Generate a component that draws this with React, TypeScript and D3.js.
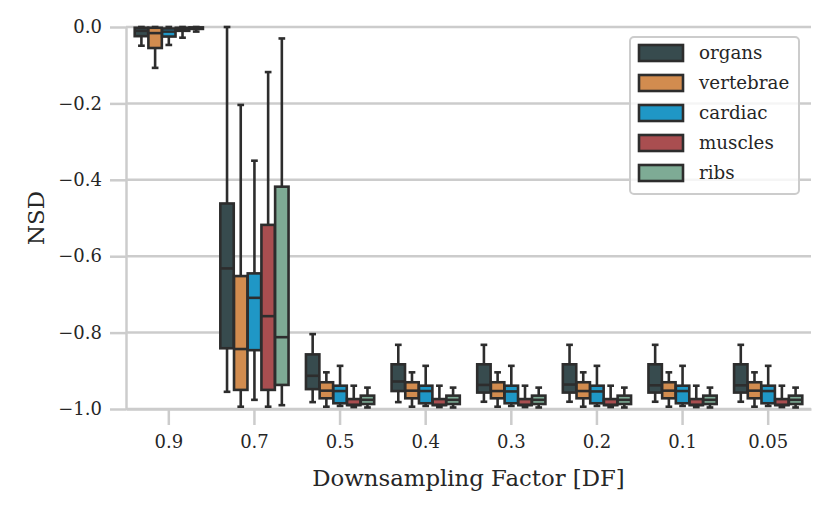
import React, { useEffect, useRef } from 'react';
import * as d3 from 'd3';

const factors = ['0.9', '0.7', '0.5', '0.4', '0.3', '0.2', '0.1', '0.05'];
const structures = ['organs', 'vertebrae', 'cardiac', 'muscles', 'ribs'];
const structureColors = ['#374b4e', '#d28c4f', '#1f97c6', '#a94e50', '#7eab95'];
const yTicks = [0, -0.2, -0.4, -0.6, -0.8, -1.0];

// [lower whisker, q1, median, q3, upper whisker] for each factor
const organs = [
  [-0.049, -0.024, -0.010, -0.002, 0],
  [-0.955, -0.841, -0.632, -0.462, 0],
  [-0.982, -0.948, -0.913, -0.857, -0.804],
  [-0.982, -0.953, -0.928, -0.883, -0.832],
  [-0.981, -0.957, -0.937, -0.883, -0.832],
  [-0.981, -0.957, -0.936, -0.883, -0.832],
  [-0.981, -0.957, -0.938, -0.883, -0.832],
  [-0.981, -0.957, -0.938, -0.883, -0.832],
];
const vertebrae = [
  [-0.107, -0.055, -0.016, -0.002, 0],
  [-0.994, -0.950, -0.843, -0.652, -0.204],
  [-0.994, -0.972, -0.952, -0.930, -0.904],
  [-0.994, -0.972, -0.952, -0.930, -0.904],
  [-0.994, -0.972, -0.953, -0.930, -0.904],
  [-0.994, -0.972, -0.953, -0.930, -0.904],
  [-0.994, -0.972, -0.952, -0.930, -0.904],
  [-0.994, -0.972, -0.952, -0.930, -0.904],
];
const cardiac = [
  [-0.047, -0.025, -0.012, -0.004, 0],
  [-0.976, -0.846, -0.709, -0.645, -0.35],
  [-0.992, -0.985, -0.953, -0.939, -0.887],
  [-0.992, -0.985, -0.953, -0.939, -0.887],
  [-0.992, -0.985, -0.954, -0.939, -0.887],
  [-0.992, -0.985, -0.954, -0.939, -0.887],
  [-0.992, -0.985, -0.953, -0.939, -0.887],
  [-0.992, -0.985, -0.953, -0.939, -0.887],
];
const muscles = [
  [-0.028, -0.010, -0.005, -0.002, 0],
  [-0.994, -0.950, -0.757, -0.518, -0.118],
  [-0.995, -0.990, -0.989, -0.974, -0.939],
  [-0.995, -0.990, -0.989, -0.974, -0.939],
  [-0.995, -0.990, -0.989, -0.974, -0.939],
  [-0.995, -0.990, -0.989, -0.974, -0.939],
  [-0.995, -0.990, -0.989, -0.974, -0.939],
  [-0.995, -0.990, -0.989, -0.974, -0.939],
];
const ribs = [
  [-0.012, -0.005, -0.003, -0.001, 0],
  [-0.990, -0.937, -0.812, -0.418, -0.03],
  [-0.996, -0.987, -0.976, -0.965, -0.944],
  [-0.996, -0.987, -0.976, -0.965, -0.944],
  [-0.996, -0.987, -0.976, -0.965, -0.944],
  [-0.996, -0.987, -0.976, -0.965, -0.944],
  [-0.996, -0.987, -0.976, -0.965, -0.944],
  [-0.996, -0.987, -0.976, -0.965, -0.944],
];
const seriesStats = [organs, vertebrae, cardiac, muscles, ribs];

const FONT = 'DejaVu Serif, serif';
const TEXT = '#262626';
const GRID = '#cccccc';
const EDGE = '#2d2d2d';

export default function App() {
  const svgRef = useRef<SVGSVGElement>(null);

  useEffect(() => {
    if (!svgRef.current) return;
    const svg = d3.select(svgRef.current);
    svg.selectAll('*').remove();

    const left = 126, right = 811, top = 27, bottom = 409;

    const x = d3.scaleBand().domain(factors).range([left, right]).padding(0);
    const step = x.bandwidth();
    const hue = d3.scaleBand().domain(structures).range([-0.4 * step, 0.4 * step]).padding(0);
    const bw = hue.bandwidth() * 0.98;
    const y = d3.scaleLinear().domain([-1, 0]).range([bottom, top]);

    // grid
    const grid = svg.append('g');
    grid.selectAll('line')
      .data(yTicks)
      .enter()
      .append('line')
      .attr('x1', left)
      .attr('x2', right)
      .attr('y1', d => y(d))
      .attr('y2', d => y(d))
      .attr('stroke', GRID)
      .attr('stroke-width', 2.5);

    // y axis
    const yAxis = svg.append('g')
      .attr('transform', `translate(${left},0)`)
      .call(d3.axisLeft(y).tickValues(yTicks).tickFormat(d3.format('.1f')).tickSizeInner(16).tickSizeOuter(0).tickPadding(8));
    yAxis.select('.domain').attr('stroke', GRID).attr('stroke-width', 2.5);
    yAxis.selectAll('.tick line').attr('stroke', GRID).attr('stroke-width', 2.5);
    yAxis.selectAll('.tick text')
      .attr('font-family', FONT)
      .attr('font-size', 18)
      .attr('fill', TEXT);

    // x axis
    const xAxis = svg.append('g')
      .attr('transform', `translate(0,${bottom})`)
      .call(d3.axisBottom(x).tickSizeInner(16).tickSizeOuter(0).tickPadding(10));
    xAxis.select('.domain').attr('stroke', GRID).attr('stroke-width', 2.5);
    xAxis.selectAll('.tick line').attr('stroke', GRID).attr('stroke-width', 2.5);
    xAxis.selectAll('.tick text')
      .attr('font-family', FONT)
      .attr('font-size', 18)
      .attr('fill', TEXT);

    // boxes
    structures.forEach((s, si) => {
      const g = svg.append('g');
      const rows = factors.map((f, fi) => ({ f, st: seriesStats[si][fi] }));
      const cx = (d: any) => (x(d.f) || 0) + step / 2 + (hue(s) || 0) + hue.bandwidth() / 2;

      const items = g.selectAll('g.box').data(rows).enter().append('g').attr('class', 'box');

      items.append('line')
        .attr('x1', cx).attr('x2', cx)
        .attr('y1', d => y(d.st[1])).attr('y2', d => y(d.st[0]))
        .attr('stroke', EDGE).attr('stroke-width', 2.6);
      items.append('line')
        .attr('x1', cx).attr('x2', cx)
        .attr('y1', d => y(d.st[3])).attr('y2', d => y(d.st[4]))
        .attr('stroke', EDGE).attr('stroke-width', 2.6);
      [0, 4].forEach(k => {
        items.append('line')
          .attr('x1', d => cx(d) - bw / 4).attr('x2', d => cx(d) + bw / 4)
          .attr('y1', d => y(d.st[k])).attr('y2', d => y(d.st[k]))
          .attr('stroke', EDGE).attr('stroke-width', 2.6);
      });
      items.append('rect')
        .attr('x', d => cx(d) - bw / 2)
        .attr('width', bw)
        .attr('y', d => y(d.st[3]))
        .attr('height', d => Math.max(0, y(d.st[1]) - y(d.st[3])))
        .attr('fill', structureColors[si])
        .attr('stroke', EDGE)
        .attr('stroke-width', 2.6);
      items.append('line')
        .attr('x1', d => cx(d) - bw / 2).attr('x2', d => cx(d) + bw / 2)
        .attr('y1', d => y(d.st[2])).attr('y2', d => y(d.st[2]))
        .attr('stroke', EDGE).attr('stroke-width', 2.6);
    });

    // axis labels
    svg.append('text')
      .attr('x', (left + right) / 2)
      .attr('y', 486)
      .attr('text-anchor', 'middle')
      .attr('font-family', FONT)
      .attr('font-size', 22.8)
      .attr('fill', TEXT)
      .text('Downsampling Factor [DF]');
    svg.append('text')
      .attr('transform', `translate(44,${(top + bottom) / 2}) rotate(-90)`)
      .attr('text-anchor', 'middle')
      .attr('font-family', FONT)
      .attr('font-size', 22.8)
      .attr('fill', TEXT)
      .text('NSD');

    // legend
    const legend = svg.append('g');
    legend.append('rect')
      .attr('x', 630).attr('y', 37)
      .attr('width', 169).attr('height', 157)
      .attr('rx', 4)
      .attr('fill', 'white').attr('fill-opacity', 0.8)
      .attr('stroke', GRID).attr('stroke-width', 2);
    const entries = legend.selectAll('g.entry')
      .data(structures)
      .enter()
      .append('g')
      .attr('class', 'entry')
      .attr('transform', (d, i) => `translate(0,${53 + i * 30})`);
    entries.append('rect')
      .attr('x', 639).attr('y', -8)
      .attr('width', 44).attr('height', 16)
      .attr('fill', (d, i) => structureColors[i])
      .attr('stroke', EDGE).attr('stroke-width', 2.6);
    entries.append('text')
      .attr('x', 699).attr('y', 6)
      .attr('font-family', FONT)
      .attr('font-size', 18.3)
      .attr('fill', TEXT)
      .text(d => d);
  }, []);

  return (
    <svg
      ref={svgRef}
      width={830}
      height={511}
      viewBox="0 0 830 511"
      style={{ position: 'absolute', left: 0, top: 0, background: 'white' }}
    />
  );
}
